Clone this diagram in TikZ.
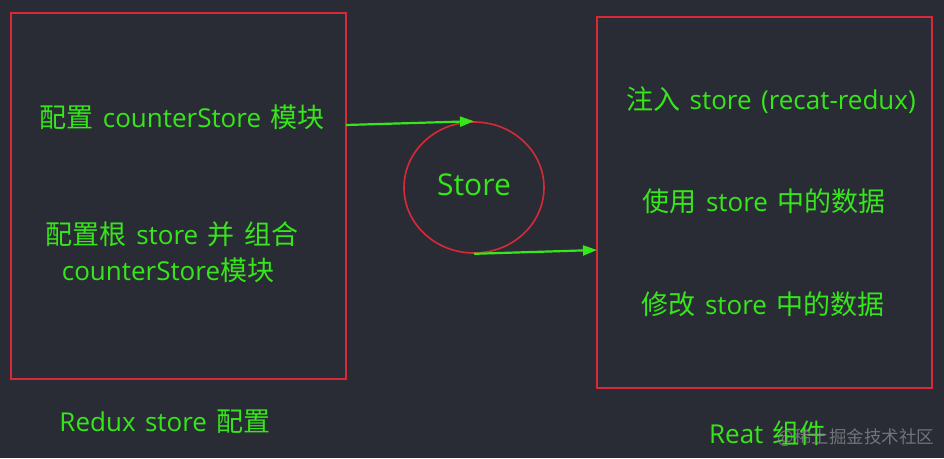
\documentclass[tikz,border=0pt]{standalone}
\usepackage{fontspec}
\setmainfont{Open Sans}[WordSpace=1.4]
\newfontfamily\zhfont{Noto Sans CJK SC}
\newcommand{\zh}[1]{{\zhfont\fontsize{27}{30}\selectfont #1}}
\usetikzlibrary{arrows.meta,shapes.geometric}
\definecolor{bg}{HTML}{2A2C35}
\definecolor{boxred}{HTML}{D82A36}
\definecolor{txtgreen}{HTML}{36E61A}
\definecolor{wm}{HTML}{8A8C92}
\tikzset{
  redbox/.style={draw=boxred, line width=1.6pt, inner sep=0pt},
  lbl/.style={text=txtgreen, font=\fontsize{26}{30}\selectfont, inner sep=0pt, anchor=center},
  arr/.style={draw=txtgreen, line width=2.2pt, -{Triangle[length=14pt,width=10pt]}},
}
\begin{document}
\begin{tikzpicture}[x=1pt,y=-1pt]
\fill[bg] (0,0) rectangle (944,458);
\useasboundingbox (0,0) rectangle (944,458);
% boxes
\node[redbox, minimum width=335pt, minimum height=366pt] (lbox) at (178.5,196) {};
\node[redbox, minimum width=335pt, minimum height=371pt] (rbox) at (764.5,202.5) {};
\node[draw=boxred, line width=1.6pt, ellipse, minimum width=140pt, minimum height=131pt, inner sep=0pt] (store) at (474,187.5) {};
\node[lbl, font=\fontsize{30}{34}\selectfont] (storetxt) at (474,185) {Store};
% left texts
\node[lbl] (t1) at (182,117) {\zh{配置} counterStore \zh{模块}};
\node[lbl] (t2) at (172,234) {\zh{配置根} store \zh{并} \zh{组合}};
\node[lbl] (t3) at (168,270) {counterStore\zh{模块}};
\node[lbl] (t4) at (165,422) {Redux store \zh{配置}};
% right texts
\node[lbl] (r1) at (771,100) {\zh{注入} store (recat-redux)};
\node[lbl] (r2) at (764,201) {\zh{使用} store \zh{中的数据}};
\node[lbl] (r3) at (763,304) {\zh{修改} store \zh{中的数据}};
\node[lbl] (r4) at (768,433) {Reat \zh{组件}};
\node[text=wm, opacity=0.75, font=\zhfont\fontsize{17.5}{20}\selectfont, inner sep=0pt] (wmk) at (856,438) {@稀土掘金技术社区};
% arrows
\coordinate (a1s) at (346,125);
\coordinate (a2e) at (597,250);
\draw[arr] (a1s) -- (store.north);
\draw[arr] (store.south) -- (a2e);
\end{tikzpicture}
\end{document}
